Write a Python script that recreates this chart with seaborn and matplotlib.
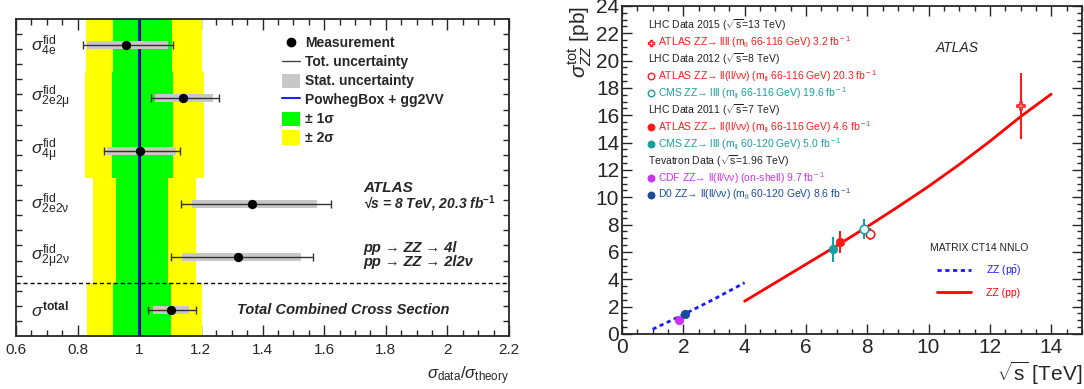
import numpy as np
import pandas as pd
import matplotlib
matplotlib.use("Agg")
import matplotlib.pyplot as plt
import seaborn as sns
from matplotlib.lines import Line2D
from matplotlib.patches import Patch
from matplotlib.ticker import MultipleLocator, FixedLocator, FormatStrFormatter, NullFormatter
import matplotlib.transforms as mtransforms

sns.set_style("ticks")
plt.rcParams['font.family'] = ['Liberation Sans', 'DejaVu Sans']
plt.rcParams['mathtext.fontset'] = 'custom'
plt.rcParams['mathtext.rm'] = 'Liberation Sans'
plt.rcParams['mathtext.it'] = 'Liberation Sans:italic'
plt.rcParams['mathtext.bf'] = 'Liberation Sans:bold'
plt.rcParams['mathtext.sf'] = 'Liberation Sans'

# ---------------- Left panel data ----------------
channels = [r"$\sigma^{\rm fid}_{\rm 4e}$", r"$\sigma^{\rm fid}_{\rm 2e2\mu}$",
            r"$\sigma^{\rm fid}_{\rm 4\mu}$", r"$\sigma^{\rm fid}_{\rm 2e2\nu}$",
            r"$\sigma^{\rm fid}_{\rm 2\mu2\nu}$", r"$\sigma^{\mathbf{total}}$"]
chan_y = [5.5, 4.5, 3.5, 2.5, 1.5, 0.5]
ratio = [0.957, 1.142, 1.003, 1.366, 1.321, 1.103]
tot_lo = [0.817, 1.038, 0.886, 1.136, 1.103, 1.027]
tot_hi = [1.110, 1.259, 1.133, 1.623, 1.564, 1.184]
stat_lo = [0.831, 1.051, 0.896, 1.171, 1.139, 1.045]
stat_hi = [1.093, 1.240, 1.118, 1.577, 1.525, 1.162]

band_y_lo = [5.0, 3.0, 1.0, 0.0]
band_y_hi = [6.0, 5.0, 3.0, 1.0]
band1_lo = [0.915, 0.912, 0.925, 0.915]
band1_hi = [1.106, 1.110, 1.093, 1.104]
band2_lo = [0.827, 0.824, 0.850, 0.830]
band2_hi = [1.204, 1.210, 1.184, 1.205]
theory_ratio = [1.0, 1.0]
theory_y = [0.0, 6.0]
split_y = 1.0

# ---------------- Right panel data ----------------
exp_names = ["ATLAS 2015", "ATLAS 2012", "CMS 2012", "ATLAS 2011", "CMS 2011", "CDF", "D0"]
exp_sqrts = [13.0, 8.1, 7.88, 7.1, 6.87, 1.85, 2.05]
exp_xsec = [16.7, 7.3, 7.7, 6.7, 6.2, 1.02, 1.46]
exp_err = [2.4, 0.45, 0.75, 0.8, 0.9, 0.3, 0.3]

ppbar_sqrts = [1.0, 1.5, 2.0, 2.5, 3.0, 3.5, 4.0]
ppbar_xsec = [0.35, 0.88, 1.42, 1.98, 2.55, 3.15, 3.75]
pp_sqrts = [4, 5, 6, 7, 8, 9, 10, 11, 12, 13, 14]
pp_xsec = [2.4, 3.75, 5.1, 6.45, 7.85, 9.3, 10.8, 12.4, 14.1, 15.9, 17.55]

legend_lines = [
    ("LHC Data 2015 ($\\sqrt{\\rm s}$=13 TeV)", None),
    ("ATLAS ZZ→ llll (m$_{\\rm ll}$ 66-116 GeV) 3.2 fb$^{\\rm -1}$", "ATLAS 2015"),
    ("LHC Data 2012 ($\\sqrt{\\rm s}$=8 TeV)", None),
    ("ATLAS ZZ→ ll(ll/νν) (m$_{\\rm ll}$ 66-116 GeV) 20.3 fb$^{\\rm -1}$", "ATLAS 2012"),
    ("CMS ZZ→ llll (m$_{\\rm ll}$ 66-116 GeV) 19.6 fb$^{\\rm -1}$", "CMS 2012"),
    ("LHC Data 2011 ($\\sqrt{\\rm s}$=7 TeV)", None),
    ("ATLAS ZZ→ ll(ll/νν) (m$_{\\rm ll}$ 66-116 GeV) 4.6 fb$^{\\rm -1}$", "ATLAS 2011"),
    ("CMS ZZ→ llll (m$_{\\rm ll}$ 60-120 GeV) 5.0 fb$^{\\rm -1}$", "CMS 2011"),
    ("Tevatron Data ($\\sqrt{\\rm s}$=1.96 TeV)", None),
    ("CDF ZZ→ ll(ll/νν) (on-shell) 9.7 fb$^{\\rm -1}$", "CDF"),
    ("D0 ZZ→ ll(ll/νν) (m$_{\\rm ll}$ 60-120 GeV) 8.6 fb$^{\\rm -1}$", "D0"),
]

# styles
RED = "#ff1a1a"
TEAL = "#1a9e9e"
MAG = "#cc33ee"
DBLUE = "#1a4a9a"
exp_color = {"ATLAS 2015": RED, "ATLAS 2012": RED, "CMS 2012": TEAL, "ATLAS 2011": RED,
             "CMS 2011": TEAL, "CDF": MAG, "D0": DBLUE}
exp_marker = {"ATLAS 2015": "P", "ATLAS 2012": "o", "CMS 2012": "o", "ATLAS 2011": "o",
              "CMS 2011": "o", "CDF": "o", "D0": "o"}
exp_open = {"ATLAS 2015": True, "ATLAS 2012": True, "CMS 2012": True, "ATLAS 2011": False,
            "CMS 2011": False, "CDF": False, "D0": False}

fig = plt.figure(figsize=(10.84, 3.89), dpi=100)
axL = fig.add_axes([0.0148, 0.1362, 0.4548, 0.8150])
axR = fig.add_axes([0.5738, 0.1414, 0.4242, 0.8432])

# ================= Left panel =================
ax = axL
for ylo, yhi, lo, hi in zip(band_y_lo, band_y_hi, band2_lo, band2_hi):
    ax.fill_betweenx([ylo, yhi], lo, hi, color="#ffff00", lw=0, zorder=1)
for ylo, yhi, lo, hi in zip(band_y_lo, band_y_hi, band1_lo, band1_hi):
    ax.fill_betweenx([ylo, yhi], lo, hi, color="#00ff00", lw=0, zorder=2)
ax.plot(theory_ratio, theory_y, color="#000044", lw=2.2, zorder=3)
ax.plot(theory_ratio, theory_y, color="#2020ff", lw=1.1, zorder=3)
ax.axhline(split_y, color="black", ls=(0, (3, 2)), lw=1.0, zorder=3)

ratio_a = np.array(ratio)
ax.barh(chan_y, np.array(stat_hi) - np.array(stat_lo), left=stat_lo, height=0.15,
        color="#c8c8c8", lw=0, zorder=4)
ax.errorbar(ratio, chan_y, xerr=[ratio_a - np.array(tot_lo), np.array(tot_hi) - ratio_a],
            fmt="none", ecolor="#333333", elinewidth=1.0, capsize=3, capthick=1.0, zorder=5)
sns.scatterplot(x=ratio, y=chan_y, color="black", s=45, edgecolor="black", linewidth=0,
                zorder=6, ax=ax, legend=False)

trans = mtransforms.blended_transform_factory(ax.transAxes, ax.transData)
for lab, yv in zip(channels, chan_y):
    ax.text(0.03, yv, lab, transform=trans, ha="left", va="center", fontsize=12.5)

ax.set_xlim(0.6, 2.2)
ax.set_ylim(0, 6)
ax.xaxis.set_major_locator(MultipleLocator(0.2))
ax.xaxis.set_minor_locator(MultipleLocator(0.05))
ax.xaxis.set_major_formatter(FormatStrFormatter("%g"))
ax.yaxis.set_major_locator(FixedLocator([]))
ax.yaxis.set_minor_locator(FixedLocator(list(np.linspace(0, 6, 22)[1:-1])))
ax.yaxis.set_minor_formatter(NullFormatter())
ax.tick_params(axis="both", which="both", direction="in", top=True, right=True)
ax.tick_params(axis="x", which="major", length=8, width=1.0, labelsize=11, pad=5)
ax.tick_params(axis="x", which="minor", length=4, width=1.0)
ax.tick_params(axis="y", which="minor", length=4, width=1.0)
for sp in ax.spines.values():
    sp.set_linewidth(1.3)
    sp.set_zorder(10)
ax.set_xlabel(r"$\sigma_{\rm data}/\sigma_{\rm theory}$", loc="right", fontsize=12, labelpad=5)

handles = [
    Line2D([], [], marker="o", color="black", ls="none", markersize=6),
    Line2D([], [], color="#444444", lw=1.0),
    Patch(facecolor="#c8c8c8", edgecolor="none"),
    Line2D([], [], color="#2020ff", lw=1.5),
    Patch(facecolor="#00ff00", edgecolor="none"),
    Patch(facecolor="#ffff00", edgecolor="none"),
]
labels = ["Measurement", "Tot. uncertainty", "Stat. uncertainty", "PowhegBox + gg2VV",
          "± 1σ", "± 2σ"]
ax.legend(handles, labels, loc="upper left", bbox_to_anchor=(0.528, 0.965), frameon=False,
          prop={"weight": "bold", "size": 10}, handlelength=1.3, handleheight=1.2,
          handletextpad=0.35, labelspacing=0.3, borderaxespad=0)

ax.text(1.727, 2.80, "ATLAS", fontsize=11, fontweight="bold", style="italic", va="center")
ax.text(1.727, 2.50, "√s = 8 TeV, 20.3 fb$^{\\mathbf{-1}}$", fontsize=10, fontweight="bold",
        style="italic", va="center")
ax.text(1.727, 1.67, "pp → ZZ → 4l", fontsize=10.5, fontweight="bold", style="italic", va="center")
ax.text(1.727, 1.40, "pp → ZZ → 2l2ν", fontsize=10.5, fontweight="bold", style="italic", va="center")
ax.text(1.317, 0.50, "Total Combined Cross Section", fontsize=10.5, fontweight="bold",
        style="italic", va="center")

# ================= Right panel =================
ax = axR
sns.lineplot(x=ppbar_sqrts, y=ppbar_xsec, color="#1a1aff", lw=2.0, ls=(0, (1.5, 1.3)), ax=ax,
             label=r"ZZ (p$\bar{\rm p}$)")
sns.lineplot(x=pp_sqrts, y=pp_xsec, color="#ff0000", lw=2.0, ax=ax, label="ZZ (pp)")

df = pd.DataFrame({"exp": exp_names, "sqrts": exp_sqrts, "xsec": exp_xsec, "err": exp_err})
for _, r in df.iterrows():
    col = exp_color[r.exp]
    ax.errorbar([r.sqrts], [r.xsec], yerr=[r.err], fmt="none", ecolor=col, elinewidth=1.5, zorder=4)
    if exp_open[r.exp]:
        sns.scatterplot(x=[r.sqrts], y=[r.xsec], marker=exp_marker[r.exp], s=38,
                        facecolors="white", edgecolor=col, linewidth=1.2, zorder=5, ax=ax,
                        legend=False)
    else:
        sns.scatterplot(x=[r.sqrts], y=[r.xsec], marker=exp_marker[r.exp], s=38,
                        color=col, edgecolor=col, linewidth=0.5, zorder=5, ax=ax, legend=False)

# experiment legend
y0 = 0.940
dy = 0.0515
for i, (txt, key) in enumerate(legend_lines):
    yy = y0 - i * dy
    if key is None:
        ax.text(0.057, yy, txt, transform=ax.transAxes, fontsize=7.5, color="#222222",
                va="center", ha="left")
    else:
        col = exp_color[key]
        if exp_open[key]:
            ax.scatter([0.063], [yy], transform=ax.transAxes, marker=exp_marker[key], s=22,
                       facecolors="white", edgecolors=col, linewidths=1.0, clip_on=False)
        else:
            ax.scatter([0.063], [yy], transform=ax.transAxes, marker=exp_marker[key], s=22,
                       color=col, clip_on=False)
        ax.text(0.078, yy, txt, transform=ax.transAxes, fontsize=7.5, color=col,
                va="center", ha="left")

ax.text(0.728, 0.872, "ATLAS", transform=ax.transAxes, fontsize=10, style="italic",
        ha="center", va="center")

leg = ax.legend(title="MATRIX CT14 NNLO", loc="upper left", bbox_to_anchor=(0.66, 0.29),
                frameon=False, fontsize=7.5, title_fontsize=7.5, handlelength=3.3,
                handletextpad=1.4, labelspacing=1.0, labelcolor="linecolor", borderaxespad=0)
leg.get_title().set_color("#222222")

ax.set_xlim(0, 15)
ax.set_ylim(0, 24)
ax.xaxis.set_major_locator(MultipleLocator(2))
ax.xaxis.set_minor_locator(MultipleLocator(0.5))
ax.yaxis.set_major_locator(MultipleLocator(2))
ax.yaxis.set_minor_locator(MultipleLocator(0.5))
ax.tick_params(axis="both", which="both", direction="in", top=True, right=True)
ax.tick_params(axis="both", which="major", length=7, width=1.0, labelsize=15)
ax.tick_params(axis="both", which="minor", length=3.5, width=1.0)
ax.tick_params(axis="x", which="major", pad=3)
ax.tick_params(axis="y", which="major", pad=2)
for sp in ax.spines.values():
    sp.set_linewidth(1.3)
ax.set_xlabel(r"$\sqrt{\rm s}$ [TeV]", loc="right", fontsize=15, labelpad=2)
ax.set_ylabel(r"$\sigma^{\rm tot}_{ZZ}$ [pb]", loc="top", fontsize=15, labelpad=2)

fig.savefig("out.png", dpi=100)
